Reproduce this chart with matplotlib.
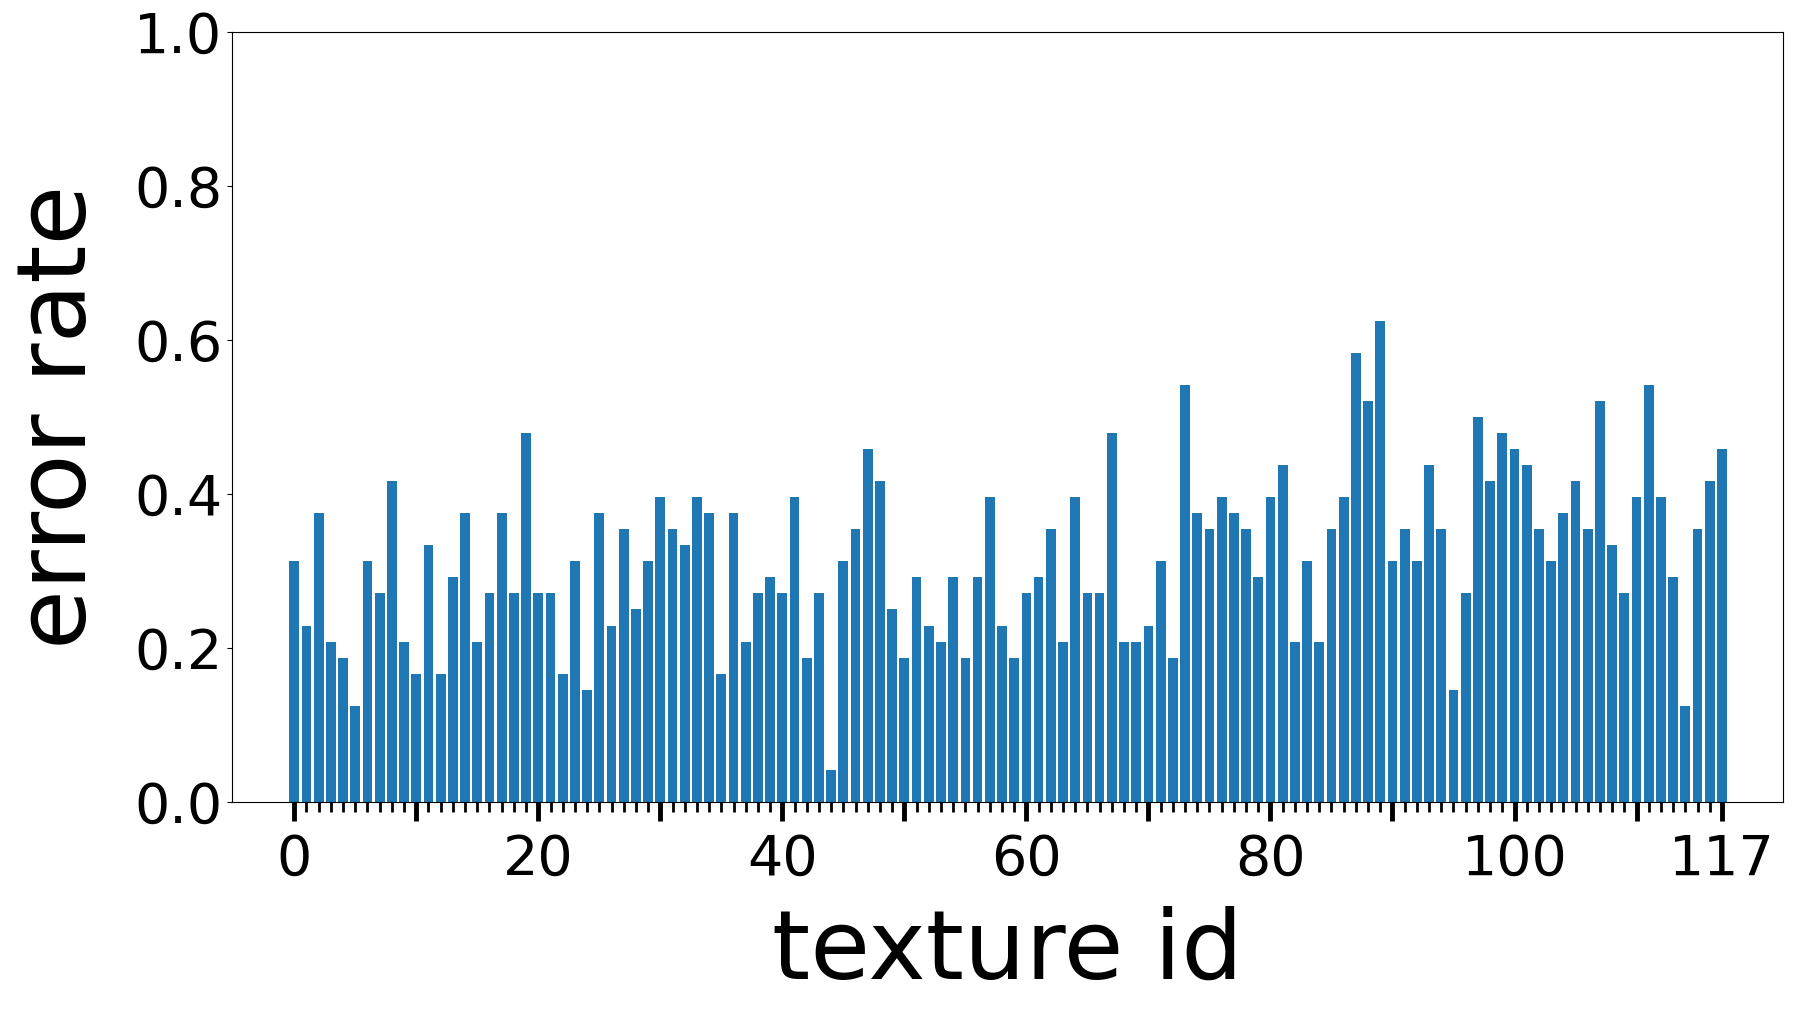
import matplotlib
matplotlib.use("Agg")
import matplotlib.pyplot as plt

# error counts out of 48 per texture id (error rate = count / 48)
counts = [15, 11, 18, 10, 9, 6, 15, 13, 20, 10,
          8, 16, 8, 14, 18, 10, 13, 18, 13, 23,
          13, 13, 8, 15, 7, 18, 11, 17, 12, 15,
          19, 17, 16, 19, 18, 8, 18, 10, 13, 14,
          13, 19, 9, 13, 2, 15, 17, 22, 20, 12,
          9, 14, 11, 10, 14, 9, 14, 19, 11, 9,
          13, 14, 17, 10, 19, 13, 13, 23, 10, 10,
          11, 15, 9, 26, 18, 17, 19, 18, 17, 14,
          19, 21, 10, 15, 10, 17, 19, 28, 25, 30,
          15, 17, 15, 21, 17, 7, 13, 24, 20, 23,
          22, 21, 17, 15, 18, 20, 17, 25, 16, 13,
          19, 26, 19, 14, 6, 17, 20, 22]
texture_ids = list(range(len(counts)))
error_rate = [c / 48 for c in counts]

major_ticks = [0, 10, 20, 30, 40, 50, 60, 70, 80, 90, 100, 110, 117]
major_labels = ['0', '', '20', '', '40', '', '60', '', '80', '', '100', '', '117']
y_ticks = [0.0, 0.2, 0.4, 0.6, 0.8, 1.0]

fig = plt.figure(figsize=(17.93, 10.09), dpi=100)
ax = fig.add_axes([0.1294, 0.2052, 0.8650, 0.7631])
ax.bar(texture_ids, error_rate, width=0.8, color='#1f77b4')
ax.set_xlim(-5.1, 122.0)
ax.set_ylim(0, 1.0)
ax.set_xticks(major_ticks)
ax.set_xticklabels(major_labels)
ax.set_xticks(texture_ids, minor=True)
ax.set_yticks(y_ticks)
ax.set_yticklabels(['%.1f' % v for v in y_ticks])
ax.tick_params(axis='x', which='major', length=14, width=3.5, labelsize=40, pad=8)
ax.tick_params(axis='x', which='minor', length=7, width=2)
ax.tick_params(axis='y', which='major', labelsize=40)
ax.set_xlabel('texture id', fontsize=70, labelpad=14)
ax.set_ylabel('error rate', fontsize=70, labelpad=20)
fig.savefig('out.png', dpi=100)
